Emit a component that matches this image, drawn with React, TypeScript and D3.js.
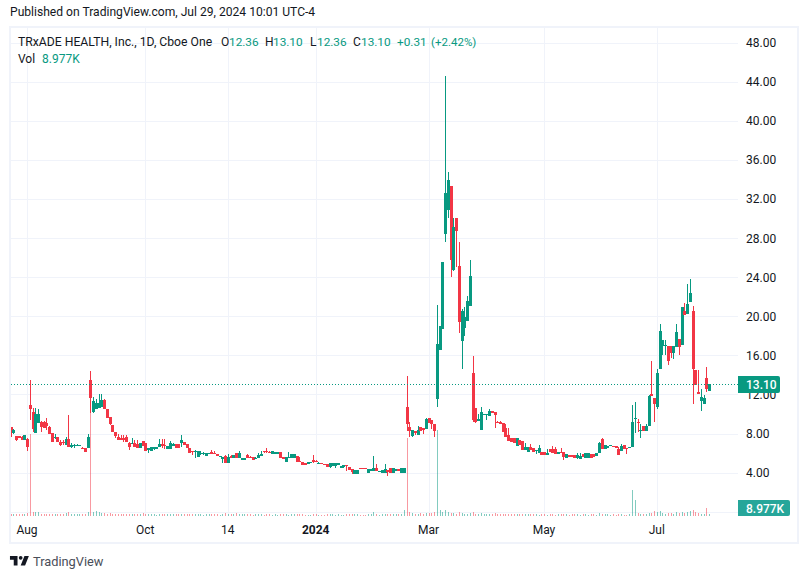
import React from 'react';
import * as d3 from 'd3';

const UP = '#089981';
const DOWN = '#F23645';
const GRID = '#f0f3fa';
const FONT = 'Roboto, sans-serif';

// daily candles, first bar is late Jul 2023, last bar is Jul 29 2024
const opens = [
  8.7, 8.05, 7.75, 7.75, 7.7, 7.3, 7.4, 10.9, 10.2, 8.1,
  9.1, 9.2, 9.2, 9.1, 8.7, 8.05, 7.55, 7.65, 7.1, 7.15,
  6.85, 7.4, 6.6, 6.75, 6.75, 6.8, 6.55, 6.5, 6.5, 13.5,
  10.2, 10.55, 10.6, 10.75, 11.45, 10.5, 9.7, 8.9, 8.2, 7.65,
  7.55, 7.6, 7.65, 7.05, 6.95, 7.05, 6.9, 6.55, 7.26, 7.0,
  6.3, 6.25, 6.4, 6.4, 6.65, 6.9, 6.85, 6.4, 6.4, 6.75,
  6.9, 6.9, 7.0, 7.15, 6.9, 6.48, 6.25, 6.15, 5.65, 5.95,
  5.97, 5.7, 5.97, 6.14, 6.05, 5.9, 5.6, 5.45, 5.72, 5.0,
  5.72, 5.5, 5.97, 5.55, 5.3, 5.3, 5.8, 5.65, 5.6, 5.5,
  5.52, 5.73, 6.21, 6.21, 6.14, 5.94, 5.9, 5.94, 6.07, 5.63,
  5.12, 5.46, 5.46, 5.46, 5.7, 5.22, 5.12, 5.01, 4.84, 5.05,
  5.29, 5.22, 5.0, 4.98, 4.9, 4.88, 4.6, 4.67, 4.71, 4.78,
  4.43, 4.6, 4.8, 4.54, 4.37, 3.85, 3.85, 4.43, 4.45, 4.43,
  3.92, 4.2, 4.2, 4.43, 4.2, 4.02, 3.92, 4.26, 4.43, 3.99,
  4.16, 4.33, 3.92, 3.92, 10.7, 8.65, 7.8, 8.3, 7.87, 8.72,
  8.55, 8.5, 9.6, 9.4, 8.95, 11.5, 16.6, 18.7, 28.4, 30.9,
  33.3, 24.7, 30, 25.1, 17.5, 18.8, 19.5, 21, 14.2, 10.6,
  9.3, 8.35, 9.95, 9.95, 9.82, 10.3, 10.23, 9.21, 9.21, 9.04,
  8.53, 7.85, 7.51, 7.51, 6.76, 7.34, 7.23, 6.3, 6.14, 6.65,
  6.55, 6.2, 6.0, 6.14, 6.14, 5.8, 6.42, 6.42, 6.38, 5.9,
  6.14, 6.14, 5.53, 5.8, 5.8, 5.8, 5.46, 5.39, 5.87, 5.53,
  5.53, 5.9, 5.9, 5.7, 5.97, 7.4, 6.38, 6.48, 6.8, 6.76,
  6.72, 6.38, 6.2, 6.82, 6.5, 6.55, 6.65, 9.5, 9.15, 8.3,
  8.75, 8.27, 8.78, 12, 11.6, 10.73, 14.6, 17, 16.95, 17,
  17, 16.2, 16.9, 17.65, 17.1, 20.5, 20.2, 21.5, 20.5, 14.55,
  12.3, 11.3, 11, 13.65, 12.36,
];

const highs = [
  8.7, 8.45, 7.8, 7.8, 7.75, 7.85, 7.5, 13.5, 10.6, 10.6,
  10.5, 9.3, 9.3, 9.6, 8.75, 8.05, 8.0, 7.65, 7.3, 7.3,
  7.7, 9.9, 7.0, 6.95, 6.9, 6.85, 6.6, 6.5, 8.0, 14.4,
  11.7, 11.5, 12.1, 12.1, 11.5, 10.5, 9.7, 8.9, 8.2, 8.0,
  7.9, 7.85, 7.9, 7.1, 7.5, 7.3, 7.33, 7.0, 7.26, 7.0,
  6.55, 6.6, 6.6, 6.6, 7.45, 7.4, 7.4, 6.75, 7.2, 7.0,
  6.95, 6.95, 7.85, 7.15, 6.9, 6.48, 6.25, 6.3, 6.2, 6.2,
  6.1, 6.0, 6.05, 6.3, 6.25, 5.9, 5.72, 5.65, 5.8, 5.9,
  5.85, 5.85, 6.0, 6.2, 5.55, 5.55, 5.9, 5.75, 5.65, 5.6,
  6.04, 6.25, 6.21, 6.48, 6.2, 6.2, 6.14, 6.07, 6.07, 5.63,
  5.56, 6.07, 5.9, 5.9, 5.7, 5.63, 5.12, 5.01, 5.05, 5.1,
  5.8, 5.3, 5.05, 5.0, 4.92, 4.88, 4.95, 4.95, 4.95, 5.01,
  4.71, 4.8, 4.82, 4.54, 4.4, 4.26, 4.26, 4.45, 4.47, 4.45,
  4.37, 4.37, 5.7, 4.84, 4.22, 4.26, 4.93, 4.3, 4.45, 4.43,
  4.33, 4.35, 4.5, 4.5, 13.9, 9.15, 8.4, 8.3, 8.8, 8.72,
  8.55, 9.55, 9.6, 9.4, 8.95, 21.2, 19, 25.5, 44.6, 34.8,
  33.3, 30, 30, 27.6, 20.7, 20.9, 22.1, 25.8, 15.9, 10.6,
  9.96, 10.68, 10, 10, 10.5, 10.3, 10.23, 9.25, 9.25, 9.04,
  9.0, 8.53, 7.51, 7.51, 7.6, 7.34, 7.23, 7.06, 6.65, 6.9,
  6.55, 6.3, 6.82, 6.14, 6.14, 6.4, 6.42, 6.7, 6.65, 6.14,
  6.5, 6.14, 5.87, 5.8, 5.8, 5.8, 6.04, 5.97, 5.87, 6.04,
  6.04, 5.9, 5.9, 5.97, 7.1, 7.5, 6.82, 6.76, 6.85, 6.76,
  6.72, 6.6, 6.9, 6.82, 6.5, 6.65, 10.9, 11.24, 9.53, 9.0,
  8.75, 9.0, 11.9, 15.4, 11.6, 14.65, 19.2, 17.6, 17.55, 17,
  17, 16.95, 19.2, 17.65, 20.9, 21.4, 23.3, 23.8, 21, 14.55,
  14.55, 12.54, 11.9, 14.8, 13.1,
];

const lows = [
  7.7, 8.0, 7.25, 7.5, 7.35, 7.3, 6.2, 9.4, 8.2, 8.1,
  9.1, 8.2, 8.6, 8.4, 8.0, 7.1, 7.4, 7.1, 6.7, 6.8,
  6.85, 6.6, 6.5, 6.55, 6.7, 6.75, 6.4, 6.15, 6.5, 10.1,
  10.1, 10.5, 10.6, 10.7, 10.5, 9.55, 8.9, 8.2, 7.5, 7.3,
  7.3, 7.1, 7.1, 6.35, 6.9, 6.65, 6.48, 6.5, 6.75, 6.2,
  6.05, 6.2, 6.35, 6.4, 6.6, 6.5, 6.4, 6.4, 6.4, 6.75,
  6.55, 6.55, 6.65, 6.82, 6.48, 5.97, 5.8, 5.5, 5.65, 5.8,
  5.85, 5.7, 5.95, 5.9, 5.9, 5.72, 5.6, 5.0, 5.0, 5.0,
  5.55, 5.5, 5.55, 5.55, 5.3, 5.3, 5.46, 5.6, 5.3, 5.5,
  5.5, 5.7, 6.05, 5.97, 6.05, 5.9, 5.9, 5.94, 5.46, 5.39,
  5.12, 5.46, 5.46, 5.46, 5.12, 5.05, 4.78, 4.78, 4.84, 5.0,
  4.95, 5.05, 4.9, 4.88, 4.85, 4.6, 4.43, 4.67, 4.43, 4.78,
  4.43, 4.5, 4.2, 4.26, 3.9, 3.85, 3.85, 4.37, 4.4, 4.37,
  3.92, 4.2, 4.2, 4.2, 4.15, 4.02, 3.92, 3.68, 4.02, 3.99,
  4.16, 4.16, 3.92, 3.92, 8.3, 7.65, 7.7, 7.85, 7.87, 8.25,
  7.95, 8.5, 9.05, 8.5, 7.7, 10.7, 16.6, 18.7, 27.6, 30.06,
  24, 24.6, 25, 18.3, 14.6, 18, 19.5, 21, 9.2, 9.1,
  9.3, 8.35, 9.9, 9.38, 9.8, 10.06, 8.6, 9.04, 8.97, 8.19,
  7.67, 7.23, 7.1, 7.06, 6.76, 6.82, 6.3, 6.3, 6.14, 6.3,
  6.14, 5.9, 5.97, 5.8, 5.8, 5.8, 6.14, 5.97, 5.87, 5.9,
  6.04, 5.29, 5.53, 5.63, 5.63, 5.53, 5.4, 5.39, 5.63, 5.53,
  5.53, 5.53, 5.63, 5.7, 5.97, 6.38, 6.38, 6.48, 6.8, 6.65,
  6.48, 5.8, 6.2, 6.38, 5.95, 6.55, 6.6, 8.07, 8.17, 7.6,
  8.27, 8.27, 8.78, 11.85, 9.2, 10.56, 14.6, 16, 16, 15,
  15.7, 15.6, 16.9, 16, 17.1, 20.1, 20.2, 21.5, 11, 13,
  12, 10.3, 11, 12.3, 12.36,
];

const closes = [
  8.2, 8.35, 7.3, 7.55, 7.35, 7.85, 6.6, 10.5, 8.45, 10.0,
  10.0, 8.65, 8.6, 8.8, 8.0, 7.1, 7.7, 7.1, 6.85, 7.0,
  7.45, 6.65, 6.85, 6.85, 6.85, 6.85, 6.45, 6.15, 7.7, 11.6,
  11.3, 11.1, 11.1, 11.4, 10.5, 9.55, 9.0, 8.2, 7.75, 7.3,
  7.3, 7.3, 7.1, 6.6, 7.05, 6.65, 6.55, 7.0, 6.75, 6.2,
  6.55, 6.6, 6.6, 6.6, 6.9, 6.75, 6.8, 6.7, 7.0, 6.95,
  6.55, 6.55, 7.33, 6.82, 6.48, 5.97, 6.2, 6.2, 6.2, 6.0,
  6.0, 5.98, 6.0, 5.9, 5.9, 5.72, 5.72, 5.63, 5.0, 5.63,
  5.55, 5.8, 5.55, 5.97, 5.55, 5.55, 5.46, 5.62, 5.3, 5.55,
  5.8, 5.9, 6.07, 6.07, 6.07, 6.17, 6.14, 6.07, 5.46, 5.39,
  5.56, 5.56, 5.9, 5.9, 5.12, 5.05, 4.78, 4.78, 5.05, 5.07,
  5.12, 5.05, 5.02, 4.88, 4.86, 4.6, 4.95, 4.95, 4.95, 5.01,
  4.71, 4.78, 4.78, 4.26, 4.09, 4.26, 4.26, 4.37, 4.42, 4.37,
  4.37, 4.37, 4.43, 4.2, 4.22, 4.26, 4.33, 4.09, 4.02, 4.43,
  4.33, 4.16, 4.5, 4.5, 9.0, 8.3, 8.4, 8.05, 8.4, 8.25,
  8.4, 9.45, 9.05, 8.95, 8.3, 17.2, 19, 25.5, 32.65, 33.9,
  25.8, 29.1, 28.7, 19.4, 20.5, 19.9, 21.6, 24.1, 9.35, 9.2,
  9.45, 10.2, 10, 10, 10.3, 10.06, 9.89, 9.04, 8.97, 8.19,
  7.67, 7.23, 7.1, 7.06, 7.6, 6.82, 6.3, 6.65, 6.65, 6.3,
  6.14, 6.3, 6.5, 5.8, 5.8, 5.97, 6.14, 5.97, 5.87, 6.14,
  6.04, 5.63, 5.87, 5.63, 5.63, 5.53, 5.8, 5.7, 5.63, 6.04,
  6.04, 5.53, 5.63, 5.97, 7.0, 6.38, 6.82, 6.76, 6.85, 6.65,
  6.48, 5.8, 6.76, 6.38, 6.4, 6.6, 9.2, 9.55, 9.05, 8.35,
  8.27, 8.75, 11.85, 11.85, 11, 14.2, 18.5, 17.6, 17.05, 15.4,
  16.2, 16.95, 18.34, 16.87, 20.9, 20.1, 21.3, 22.4, 14.65, 13,
  12, 11.75, 11.6, 12.6, 13.1,
];

// volume in thousands of shares
const volumes = [
  12, 10, 9, 11, 10, 9, 15, 410, 20, 22,
  18, 12, 10, 11, 9, 12, 10, 9, 10, 12,
  14, 22, 11, 9, 8, 9, 10, 11, 20, 525,
  22, 26, 18, 16, 14, 12, 13, 10, 12, 10,
  9, 10, 9, 11, 8, 9, 10, 9, 14, 12,
  8, 9, 10, 7, 11, 9, 8, 10, 9, 8,
  9, 10, 12, 9, 10, 11, 8, 10, 9, 8,
  7, 9, 8, 10, 9, 8, 7, 9, 14, 10,
  12, 9, 13, 11, 8, 9, 10, 8, 7, 8,
  9, 8, 7, 9, 8, 7, 8, 7, 10, 8,
  9, 7, 8, 8, 9, 10, 8, 7, 7, 6,
  8, 9, 6, 7, 6, 8, 9, 8, 7, 8,
  7, 6, 9, 8, 9, 8, 9, 6, 5, 6,
  8, 8, 18, 9, 6, 8, 10, 9, 9, 8,
  9, 10, 12, 30, 390, 20, 14, 12, 10, 14,
  12, 16, 14, 13, 18, 430, 32, 22, 28, 20,
  16, 14, 12, 18, 16, 12, 10, 14, 18, 12,
  10, 14, 10, 9, 12, 10, 13, 8, 9, 10,
  12, 10, 9, 8, 9, 10, 8, 9, 10, 8,
  9, 8, 7, 9, 8, 7, 9, 8, 7, 8,
  10, 8, 9, 7, 8, 9, 8, 7, 8, 9,
  7, 9, 8, 7, 14, 10, 9, 8, 6, 8,
  7, 9, 8, 7, 6, 9, 130, 80, 14, 12,
  11, 10, 14, 16, 24, 18, 26, 16, 12, 14,
  13, 12, 18, 14, 20, 16, 22, 24, 28, 18,
  16, 10, 12, 40, 8.977,
];

const priceTicks = [4, 8, 12, 16, 20, 24, 28, 32, 36, 40, 44, 48];
const timeLabels = ['Aug', 'Oct', '14', '2024', 'Mar', 'May', 'Jul'];
const timeIndexes = [6, 49, 79, 111, 152, 194, 235];
const lastClose = 13.1;

const x = d3.scaleLinear().domain([0, 254]).range([10.5, 709]);
const y = d3.scaleLinear().domain([4, 48]).range([472.7, 42.5]);
const yVol = d3.scaleLinear().domain([0, 525]).range([516, 411]);

const px = (v: number) => Math.round(v);

const candles = d3.range(opens.length).map((i) => ({
  i,
  o: opens[i],
  h: highs[i],
  l: lows[i],
  c: closes[i],
  v: volumes[i],
}));

const legendValues = [
  { label: 'O', value: '12.36', lx: 221, vx: 229 },
  { label: 'H', value: '13.10', lx: 265, vx: 273 },
  { label: 'L', value: '12.36', lx: 310, vx: 317 },
  { label: 'C', value: '13.10', lx: 353, vx: 361 },
];

const App = () => {
  return (
    <svg
      width={808}
      height={579}
      style={{ position: 'absolute', left: 0, top: 0, background: '#fff', fontFamily: FONT }}
    >
      <text x={10} y={16} fontSize={12.1} fill="#131722">
        Published on TradingView.com, Jul 29, 2024 10:01 UTC-4
      </text>

      {/* grid */}
      <g shapeRendering="crispEdges" stroke={GRID}>
        {[0, ...priceTicks].map((t) => (
          <line key={t} x1={11} x2={738} y1={px(y(t)) + 0.5} y2={px(y(t)) + 0.5} />
        ))}
        {timeIndexes.map((t) => (
          <line key={t} x1={px(x(t)) + 0.5} x2={px(x(t)) + 0.5} y1={28} y2={516} />
        ))}
      </g>

      {/* volume */}
      <g shapeRendering="crispEdges" opacity={0.5}>
        {candles.map((d) => (
          <rect
            key={d.i}
            x={px(x(d.i))}
            width={1}
            y={px(yVol(d.v))}
            height={Math.max(1, 516 - px(yVol(d.v)))}
            fill={d.c >= d.o ? UP : DOWN}
          />
        ))}
      </g>

      {/* candles */}
      <g shapeRendering="crispEdges">
        {candles.map((d) => {
          const color = d.c >= d.o ? UP : DOWN;
          const top = px(y(Math.max(d.o, d.c)));
          const bottom = px(y(Math.min(d.o, d.c)));
          return (
            <g key={d.i} fill={color}>
              <rect x={px(x(d.i))} width={1} y={px(y(d.h))} height={Math.max(1, px(y(d.l)) - px(y(d.h)))} />
              <rect x={px(x(d.i)) - 1} width={3} y={top} height={Math.max(1, bottom - top)} />
            </g>
          );
        })}
      </g>

      {/* last price line */}
      <line
        x1={11}
        x2={738}
        y1={px(y(lastClose)) + 0.5}
        y2={px(y(lastClose)) + 0.5}
        stroke={UP}
        strokeDasharray="1 2"
        shapeRendering="crispEdges"
      />

      {/* frame */}
      <g fill="none" stroke={GRID} strokeWidth={2} shapeRendering="crispEdges">
        <rect x={10} y={27} width={788} height={516} />
      </g>

      {/* legend */}
      <g fontSize={12}>
        <text x={18} y={46} fontSize={12.2} fill="#131722">TRxADE HEALTH, Inc., 1D, Cboe One</text>
        {legendValues.map((d) => (
          <g key={d.label}>
            <text x={d.lx} y={46} fill="#131722">{d.label}</text>
            <text x={d.vx} y={46} fontSize={11.8} fill={UP}>{d.value}</text>
          </g>
        ))}
        <text x={397} y={46} fontSize={11.8} fill={UP}>+0.31</text>
        <text x={431} y={46} fontSize={11.5} fill={UP}>(+2.42%)</text>
        <text x={18} y={63} fill="#131722">Vol</text>
        <text x={42} y={63} fill={UP}>8.977K</text>
      </g>

      {/* price axis */}
      <g fontSize={12} fill="#131722">
        {priceTicks.map((t) => (
          <text key={t} x={746} y={y(t) + 4.5}>{t.toFixed(2)}</text>
        ))}
      </g>
      <path d="M738 376H778a2 2 0 0 1 2 2V391a2 2 0 0 1 -2 2H738Z" fill={UP} />
      <text x={746} y={389} fontSize={12} fontWeight={500} fill="#fff">13.10</text>
      <path d="M738 500H788a2 2 0 0 1 2 2V514a2 2 0 0 1 -2 2H738Z" fill="#26a69a" />
      <text x={746} y={513} fontSize={12} fontWeight={500} fill="#fff">8.977K</text>

      {/* time axis */}
      <g fontSize={12} fill="#131722" textAnchor="middle">
        {timeIndexes.map((t, k) => (
          <text
            key={t}
            x={x(t)}
            y={534}
            fontWeight={timeLabels[k] === '2024' ? 700 : 400}
          >
            {timeLabels[k]}
          </text>
        ))}
      </g>

      {/* logo */}
      <path
        transform="translate(8.7 552.2) scale(0.63)"
        d="M14 6H2v6h6v9h6V6zm12 15h-7l6-15h7l-6 15zm-7-9a3 3 0 1 0 0-6 3 3 0 0 0 0 6z"
        fill="#131722"
      />
      <text x={33} y={566} fontSize={12.8} fill="#4a4e59">TradingView</text>
    </svg>
  );
};

export default App;
